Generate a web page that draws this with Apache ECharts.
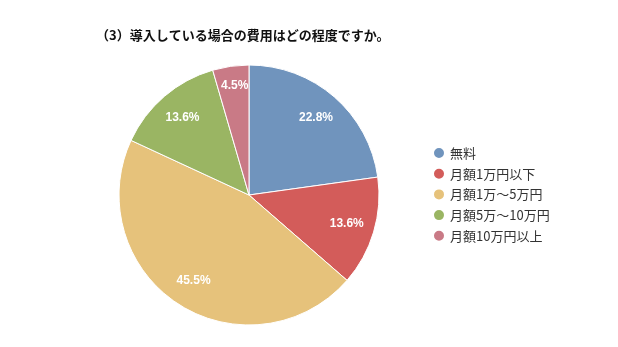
<!DOCTYPE html>
<html>
<head>
<meta charset="utf-8">
<script src="https://cdn.jsdelivr.net/npm/echarts@6/dist/echarts.min.js"></script>
<style>
html,body{margin:0;padding:0;background:#fff;}
#chart{width:618px;height:347px;}
</style>
</head>
<body>
<div id="chart"></div>
<script>
// Survey answer: cost of the system where it has been introduced
const categories = ['無料', '月額1万円以下', '月額1万～5万円', '月額5万～10万円', '月額10万円以上'];
const shares = [22.8, 13.6, 45.5, 13.6, 4.5];
const colors = ['#7094bd', '#d35c5a', '#e6c27b', '#9ab563', '#c97a86'];
const titleText = '（3）導入している場合の費用はどの程度ですか。';

const pct = p => p.value.toFixed(1) + '%';

const pieData = categories.map((name, i) => ({
  name: name,
  value: shares[i],
  itemStyle: { color: colors[i] }
}));

// the narrow last slice gets its label lifted a little further out
// (an empty second line pushes the first one up)
const labelData = categories.map((name, i) => {
  const item = { name: name, value: shares[i] };
  if (i === categories.length - 1) {
    item.label = { formatter: p => pct(p) + '\n', lineHeight: 16 };
  }
  return item;
});

const chart = echarts.init(document.getElementById('chart'));
chart.setOption({
  animation: false,
  title: {
    text: titleText,
    left: 91,
    top: 24,
    textStyle: {
      fontFamily: '"Noto Sans CJK JP", sans-serif',
      fontSize: 13,
      fontWeight: 'bold',
      color: '#111'
    }
  },
  legend: {
    orient: 'vertical',
    left: 427,
    top: 141,
    icon: 'circle',
    itemWidth: 12,
    itemHeight: 12,
    itemGap: 6.7,
    data: categories,
    textStyle: {
      fontFamily: '"Noto Sans CJK JP", sans-serif',
      fontSize: 13,
      color: '#333'
    }
  },
  series: [
    {
      type: 'pie',
      center: [249, 195],
      radius: [0, 130],
      startAngle: 90,
      clockwise: true,
      data: pieData,
      label: { show: false },
      labelLine: { show: false },
      itemStyle: { borderColor: '#fff', borderWidth: 1 },
      emphasis: { disabled: true }
    },
    {
      // transparent ring that only carries the percentage labels
      type: 'pie',
      center: [249, 195],
      radius: [68, 130],
      startAngle: 90,
      clockwise: true,
      silent: true,
      legendHoverLink: false,
      data: labelData,
      itemStyle: { color: 'rgba(0,0,0,0)' },
      label: {
        show: true,
        position: 'inside',
        formatter: pct,
        color: '#fff',
        fontFamily: 'Arial, "Liberation Sans", sans-serif',
        fontSize: 12,
        fontWeight: 'bold'
      },
      labelLine: { show: false },
      emphasis: { disabled: true }
    }
  ]
});
</script>
</body>
</html>
